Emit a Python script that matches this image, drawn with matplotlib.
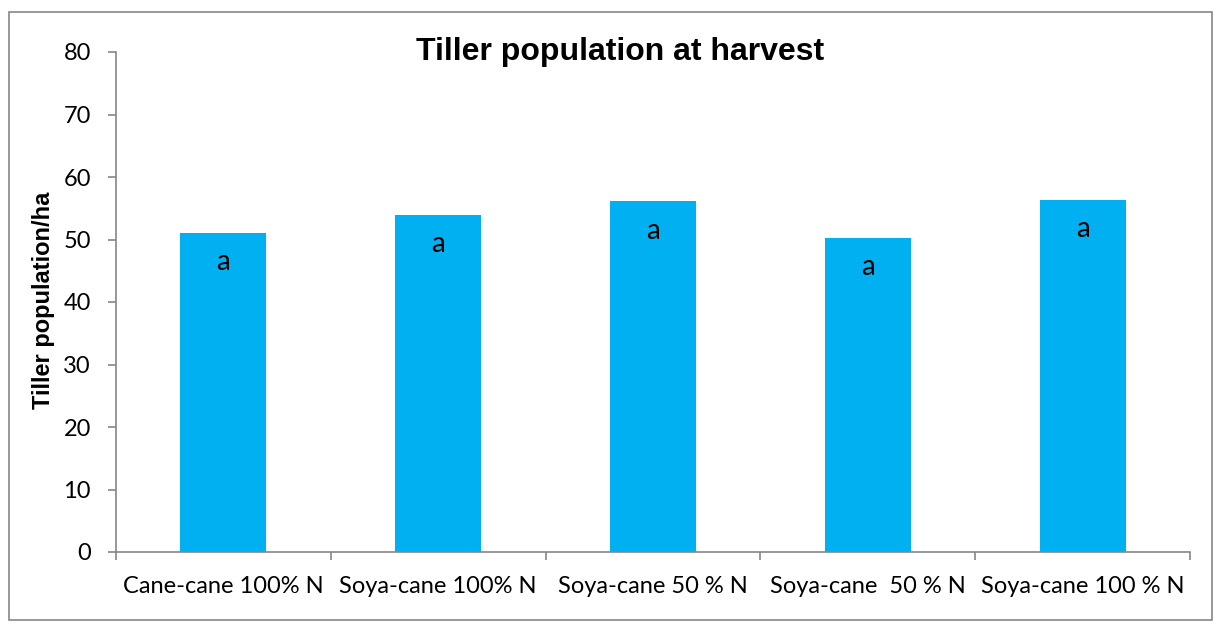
import matplotlib
matplotlib.use("Agg")
import matplotlib.pyplot as plt
from matplotlib.patches import Rectangle

categories = ["Cane-cane 100% N", "Soya-cane 100% N", "Soya-cane 50 % N",
              "Soya-cane  50 % N", "Soya-cane 100 % N"]
values = [51.0, 54.0, 56.1, 50.2, 56.3]
letters = ["a", "a", "a", "a", "a"]
yticks = [0, 10, 20, 30, 40, 50, 60, 70, 80]

bar_color = "#00B0F0"
axis_gray = "#868686"

fig = plt.figure(figsize=(12.2, 6.32), dpi=100)
fig.patch.set_facecolor("white")
fig.patches.append(Rectangle((9/1220, 1 - 620/632), 1203/1220, 608/632,
                             transform=fig.transFigure, fill=False,
                             edgecolor=axis_gray, linewidth=1.2))

ax = fig.add_axes([116/1220, 80/632, 1074/1220, 500/632])
x = list(range(len(categories)))
ax.bar(x, values, width=0.4, color=bar_color, zorder=2)
ax.set_xlim(-0.5, len(categories) - 0.5)
ax.set_ylim(0, 80)
ax.set_yticks(yticks)
ax.set_yticklabels([str(v) for v in yticks], fontfamily="Lato", fontsize=17)

ax.set_xticks(x)
ax.set_xticklabels(categories, fontfamily="Lato", fontsize=17)
ax.tick_params(axis="x", which="major", length=0, pad=17)
ax.set_xticks([i - 0.5 for i in range(len(categories) + 1)], minor=True)
ax.tick_params(axis="x", which="minor", length=6, color=axis_gray, width=1.2, direction="out")
ax.tick_params(axis="y", length=6, color=axis_gray, width=1.2, direction="out", pad=12)

for s in ["top", "right"]:
    ax.spines[s].set_visible(False)
for s in ["left", "bottom"]:
    ax.spines[s].set_color(axis_gray)
    ax.spines[s].set_linewidth(1.2)

for xi, v, t in zip(x, values, letters):
    ax.annotate(t, (xi, v), xytext=(0, -21), textcoords="offset points",
                ha="center", va="center", fontfamily="Lato", fontsize=20)

fig.text(44/1220, 1 - 300/632, "Tiller population/ha", rotation=90,
         ha="center", va="center", fontfamily="Liberation Sans",
         fontweight="bold", fontsize=17)
fig.text(620/1220, 1 - 52/632, "Tiller population at harvest", ha="center", va="center",
         fontfamily="Liberation Sans", fontweight="bold", fontsize=23)

fig.savefig("out.png", dpi=100, facecolor="white")
